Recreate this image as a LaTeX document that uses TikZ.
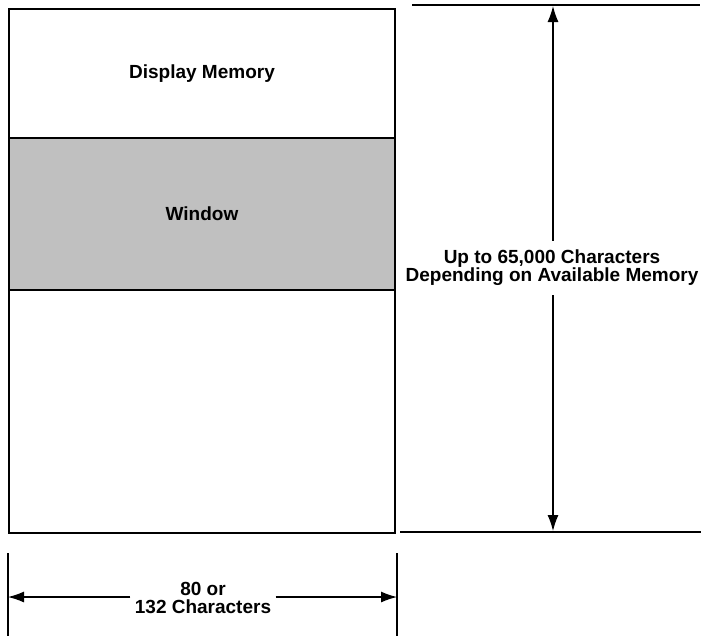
\documentclass[tikz,border=0pt]{standalone}
\usepackage{fontspec}
\setmainfont{Liberation Sans}
\usetikzlibrary{arrows.meta,positioning}
\definecolor{screen}{RGB}{192, 192, 192}
\newcommand{\dimfont}{\bfseries\fontsize{9.5}{9}\selectfont\lineskiplimit -4pt\relax}
\tikzset{
  memblock/.style={draw=black, line width=1pt, rectangle, minimum width=193pt, anchor=north west, align=center, font=\bfseries\fontsize{9.5}{9}\selectfont},
  dimtext/.style={align=center, inner xsep=2pt, font=\dimfont},
  dimarrow/.style={-{Latex[length=8pt, width=5.5pt]}, line width=0.6pt},
  extline/.style={line width=0.9pt}
}

\begin{document}
\begin{tikzpicture}[x=0.5pt, y=-0.5pt]
  \useasboundingbox (0,0) rectangle (701,639);

  % memory blocks
  \node [memblock, minimum height=64.5pt] (disp) at (8,8) {Display Memory};
  \node [memblock, minimum height=76pt, fill=screen] (window) at (8,137) {Window};
  \node [memblock, minimum height=121.5pt] (rest) at (8,289) {};

  % extension lines
  \coordinate (topl) at (412,5);
  \coordinate (topr) at (700,5);
  \coordinate (botl) at (400,532);
  \coordinate (botr) at (701,532);
  \draw [extline] (topl) -- (topr);
  \draw [extline] (botl) -- (botr);
  \coordinate (lefttop) at (8,553);
  \coordinate (leftbot) at (8,636);
  \coordinate (righttop) at (397,553);
  \coordinate (rightbot) at (397,636);
  \draw [extline] (lefttop) -- (leftbot);
  \draw [extline] (righttop) -- (rightbot);

  % depth
  \node [dimtext, inner ysep=4.5pt] (depth) at (552,268) {Up to 65,000 Characters\\Depending on Available Memory};
  \coordinate (uptip) at (553,6);
  \coordinate (downtip) at (553,531);
  \draw [dimarrow] (depth.north -| uptip) -- (uptip);
  \draw [dimarrow] (depth.south -| downtip) -- (downtip);

  % width
  \node [dimtext] (width) at (203,598) {80 or\\132 Characters};
  \coordinate (lefttip) at (8,597);
  \coordinate (righttip) at (397,597);
  \draw [dimarrow] (width.west |- lefttip) -- (lefttip);
  \draw [dimarrow] (width.east |- righttip) -- (righttip);
\end{tikzpicture}
\end{document}
